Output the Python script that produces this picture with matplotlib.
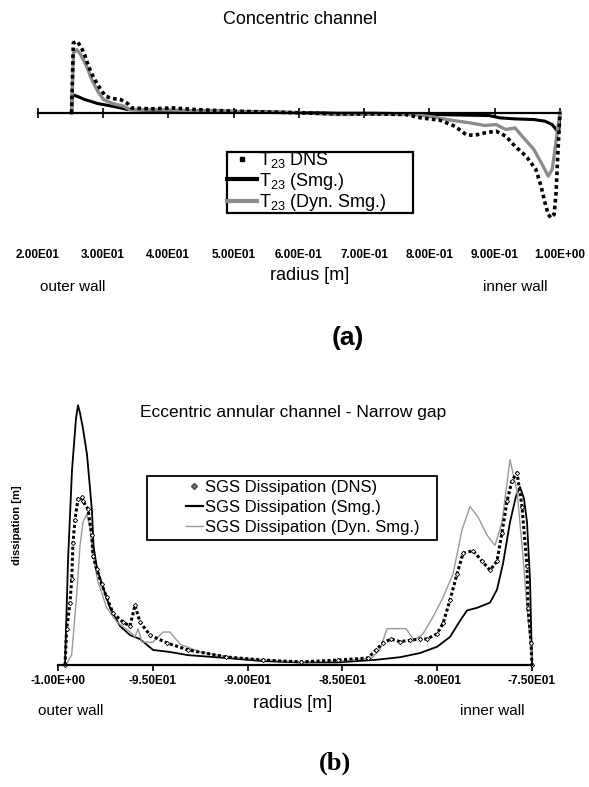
import numpy as np
import matplotlib
matplotlib.use("Agg")
import matplotlib.pyplot as plt
from matplotlib.lines import Line2D
from matplotlib.patches import Rectangle

plt.rcParams["font.family"] = ["Liberation Sans", "DejaVu Sans"]
plt.rcParams["mathtext.default"] = "regular"

# ---- (a) concentric channel, T23 vs radius ----
a_ticks = [0.2, 0.3, 0.4, 0.5, 0.6, 0.7, 0.8, 0.9, 1.0]
a_ticklabels = ["2.00E01", "3.00E01", "4.00E01", "5.00E01", "6.00E-01",
                "7.00E-01", "8.00E-01", "9.00E-01", "1.00E+00"]

a_dns_r = [0.252, 0.2547, 0.2604, 0.266, 0.272, 0.278, 0.286, 0.295, 0.304, 0.315,
           0.327, 0.338, 0.344, 0.373, 0.407, 0.442, 0.488, 0.545, 0.603, 0.66,
           0.718, 0.764, 0.787, 0.816, 0.839, 0.856, 0.868, 0.885, 0.902, 0.917,
           0.931, 0.948, 0.963, 0.971, 0.977, 0.982, 0.986, 0.991, 0.994, 0.997, 1.0]
a_dns_t = [0.0, 2.1, 2.15, 2.0, 1.75, 1.4, 1.05, 0.75, 0.5, 0.43,
           0.4, 0.28, 0.15, 0.12, 0.15, 0.1, 0.06, 0.03, 0.0, -0.03,
           -0.03, -0.05, -0.15, -0.22, -0.4, -0.65, -0.68, -0.6, -0.55, -0.7,
           -1.0, -1.3, -1.7, -2.2, -2.7, -3.05, -3.15, -3.05, -2.4, -1.1, 0.0]

a_smg_r = [0.252, 0.253, 0.263, 0.272, 0.281, 0.292, 0.309, 0.327, 0.338, 0.373,
           0.43, 0.488, 0.545, 0.603, 0.66, 0.718, 0.776, 0.833, 0.891, 0.908,
           0.931, 0.96, 0.977, 0.988, 0.994, 0.998, 1.0]
a_smg_t = [0.0, 0.55, 0.48, 0.4, 0.35, 0.28, 0.22, 0.15, 0.1, 0.08,
           0.07, 0.05, 0.03, 0.01, -0.01, -0.01, -0.03, -0.06, -0.08, -0.15,
           -0.18, -0.2, -0.25, -0.35, -0.5, -0.6, 0.0]

a_dyn_r = [0.252, 0.255, 0.26, 0.266, 0.275, 0.283, 0.292, 0.301, 0.315, 0.332,
           0.341, 0.373, 0.43, 0.488, 0.545, 0.603, 0.66, 0.718, 0.776, 0.805,
           0.833, 0.862, 0.885, 0.902, 0.917, 0.931, 0.942, 0.96, 0.974, 0.982,
           0.988, 0.993, 0.997, 1.0]
a_dyn_t = [0.0, 1.8, 1.9, 1.75, 1.4, 1.0, 0.65, 0.4, 0.28, 0.2,
           0.1, 0.1, 0.07, 0.04, 0.02, 0.0, -0.05, -0.04, -0.05, -0.12,
           -0.22, -0.3, -0.38, -0.35, -0.5, -0.45, -0.7, -1.1, -1.6, -1.9,
           -1.7, -1.0, -0.4, 0.0]

# ---- (b) eccentric annular channel, SGS dissipation vs radius ----
b_ticks = [-1.0, -0.95, -0.9, -0.85, -0.8, -0.75]
b_ticklabels = ["-1.00E+00", "-9.50E01", "-9.00E01", "-8.50E01", "-8.00E01", "-7.50E01"]

# radii were read as picture columns (58 px -> -1.0, 532 px -> -0.75)
b_smg_x = [65, 68, 72, 76, 78, 80, 83, 87, 90, 92, 93.5, 97, 103, 110, 120, 130, 140,
           153, 170, 188, 226, 263, 301, 338, 376, 400, 420, 437, 450, 460, 467, 477,
           490, 497, 503, 510, 516, 520, 524, 527, 530, 532]
b_smg_d = [0.0, 0.4, 0.75, 0.95, 1.0, 0.97, 0.91, 0.81, 0.68, 0.59, 0.46, 0.37, 0.3,
           0.22, 0.15, 0.115, 0.1, 0.058, 0.05, 0.038, 0.027, 0.015, 0.01, 0.01, 0.02,
           0.03, 0.046, 0.07, 0.108, 0.17, 0.21, 0.22, 0.24, 0.29, 0.39, 0.55, 0.65,
           0.685, 0.64, 0.55, 0.33, 0.0]

b_dns_x = [65, 66.7, 70, 71.7, 73, 75, 78, 81.7, 83, 88, 91.7, 93, 96.7, 101.7, 106.7,
           113, 123, 130, 135, 140, 150, 167, 188, 226, 263, 301, 338, 368, 376, 383,
           391, 400, 410, 420, 427, 437, 443, 450, 457, 463, 473, 482, 490, 497, 502,
           507, 512, 517, 522, 527, 528, 531, 532]
b_dns_d = [0.0, 0.14, 0.24, 0.33, 0.47, 0.56, 0.64, 0.645, 0.63, 0.6, 0.5, 0.42, 0.37,
           0.31, 0.26, 0.2, 0.165, 0.15, 0.23, 0.165, 0.115, 0.085, 0.058, 0.031, 0.019,
           0.012, 0.019, 0.027, 0.058, 0.085, 0.1, 0.09, 0.095, 0.1, 0.1, 0.12, 0.16,
           0.25, 0.35, 0.43, 0.44, 0.4, 0.365, 0.4, 0.51, 0.63, 0.71, 0.74, 0.61, 0.38,
           0.22, 0.085, 0.0]

b_dyn_x = [66, 71.7, 76.7, 80, 83, 86.7, 90, 93, 98, 106.7, 117, 130, 135, 138, 142,
           153, 163, 170, 180, 200, 230, 263, 300, 340, 372, 380, 387, 400, 406, 414,
           423, 433, 443, 453, 462, 470, 478, 487, 495, 502, 507, 510, 514, 517, 523,
           527, 532]
b_dyn_d = [0.0, 0.04, 0.27, 0.46, 0.55, 0.58, 0.53, 0.42, 0.32, 0.22, 0.165, 0.127,
           0.108, 0.14, 0.088, 0.088, 0.127, 0.127, 0.08, 0.05, 0.03, 0.02, 0.012, 0.015,
           0.027, 0.06, 0.14, 0.14, 0.14, 0.096, 0.12, 0.185, 0.26, 0.35, 0.52, 0.61,
           0.57, 0.5, 0.46, 0.55, 0.7, 0.79, 0.72, 0.67, 0.42, 0.22, 0.02]


def col_to_r(cols):
    return [-1.0 + (x - 58) / 474 * 0.25 for x in cols]


b_smg_r = col_to_r(b_smg_x)
b_dns_r = col_to_r(b_dns_x)
b_dyn_r = col_to_r(b_dyn_x)

W, H = 589, 787
fig = plt.figure(figsize=(W / 100, H / 100), dpi=100)


def fx(px):
    return px / W


def fy(py):
    return 1 - py / H


# ---------------- panel (a) ----------------
ax1 = fig.add_axes([fx(37.6), fy(246), fx(560) - fx(37.6), fy(35) - fy(246)])
ax1.plot(a_smg_r, a_smg_t, color="black", lw=2.2, clip_on=False)
ax1.plot(a_dyn_r, a_dyn_t, color="#8c8c8c", lw=2.4, clip_on=False)
ax1.plot(a_dns_r, a_dns_t, color="black", lw=2.6, ls=(0, (1, 0.9)), clip_on=False)
ax1.set_xlim(0.2, 1.0)
ax1.set_ylim(-4.0, 2.34)
for s in ["top", "right", "left"]:
    ax1.spines[s].set_visible(False)
ax1.spines["bottom"].set_position(("data", 0))
ax1.spines["bottom"].set_linewidth(1.6)
ax1.set_yticks([])
ax1.set_xticks(a_ticks)
ax1.tick_params(axis="x", direction="inout", length=7, width=1.2, labelbottom=False)
sec1 = ax1.secondary_xaxis("bottom")
sec1.set_xticks(a_ticks, a_ticklabels)
sec1.spines["bottom"].set_visible(False)
sec1.tick_params(length=0, pad=2, labelsize=8.5)
for t in sec1.get_xticklabels():
    t.set_fontweight("bold")

fig.text(fx(300), fy(19), "Concentric channel", ha="center", va="center", fontsize=13)
fig.text(fx(310), fy(276), "radius [m]", ha="center", va="center", fontsize=13)
fig.text(fx(73), fy(287), "outer wall", ha="center", va="center", fontsize=11)
fig.text(fx(515), fy(287), "inner wall", ha="center", va="center", fontsize=11)
fig.text(fx(348), fy(338), "(a)", ha="center", va="center", fontsize=19,
         fontweight="bold")

fig.add_artist(Rectangle((fx(227), fy(213)), fx(413) - fx(227), fy(152) - fy(213),
                         transform=fig.transFigure, fill=False, lw=1.6, ec="black"))
h_a = [Line2D([], [], ls="none", marker="s", ms=3, color="black"),
       Line2D([], [], color="black", lw=3),
       Line2D([], [], color="#8c8c8c", lw=3)]
fig.legend(h_a, ["T$_{23}$ DNS", "T$_{23}$ (Smg.)", "T$_{23}$ (Dyn. Smg.)"],
           loc="upper left", bbox_to_anchor=(fx(227), fy(150)), frameon=False,
           fontsize=13, handlelength=1.65, handletextpad=0.12, borderpad=0,
           borderaxespad=0, labelspacing=0.04)

# ---------------- panel (b) ----------------
ax2 = fig.add_axes([fx(58), fy(665), fx(532) - fx(58), fy(400) - fy(665)])
ax2.plot(b_smg_r, b_smg_d, color="black", lw=1.3, clip_on=False)
ax2.plot(b_dyn_r, b_dyn_d, color="#9a9a9a", lw=1.0, clip_on=False)
ax2.plot(b_dns_r, b_dns_d, color="black", lw=2.2, ls=(0, (1, 0.8)), clip_on=False)
ax2.plot(b_dns_r, b_dns_d, ls="none", marker="D", ms=2.2, mfc="white", mec="black",
         mew=0.6, clip_on=False)
ax2.set_xlim(-1.0, -0.75)
ax2.set_ylim(0, 1.02)
for s in ["top", "right", "left"]:
    ax2.spines[s].set_visible(False)
ax2.spines["bottom"].set_linewidth(1.6)
ax2.set_yticks([])
ax2.set_xticks(b_ticks, b_ticklabels)
ax2.tick_params(axis="x", direction="out", length=4, width=1.2, pad=3, labelsize=8.5)
for t in ax2.get_xticklabels():
    t.set_fontweight("bold")

fig.text(fx(293), fy(413), "Eccentric annular channel - Narrow gap", ha="center",
         va="center", fontsize=12.5)
fig.text(fx(17), fy(525), "dissipation [m]", ha="center", va="center", rotation=90,
         fontsize=8, fontweight="bold")
fig.text(fx(293), fy(704), "radius [m]", ha="center", va="center", fontsize=13)
fig.text(fx(71), fy(711), "outer wall", ha="center", va="center", fontsize=11)
fig.text(fx(492), fy(711), "inner wall", ha="center", va="center", fontsize=11)
fig.text(fx(335), fy(763), "(b)", ha="center", va="center", fontsize=19,
         fontweight="bold", family="Liberation Serif")

fig.add_artist(Rectangle((fx(147), fy(540)), fx(437) - fx(147), fy(476) - fy(540),
                         transform=fig.transFigure, fill=False, lw=1.3, ec="black"))
h_b = [Line2D([], [], ls="none", marker="D", ms=3, mfc="#777777", mec="#444444"),
       Line2D([], [], color="black", lw=1.6),
       Line2D([], [], color="#9a9a9a", lw=1.0)]
fig.legend(h_b, ["SGS Dissipation (DNS)", "SGS Dissipation (Smg.)",
                 "SGS Dissipation (Dyn. Smg.)"],
           loc="upper left", bbox_to_anchor=(fx(186), fy(480)), frameon=False,
           fontsize=12, handlelength=1.0, handletextpad=0.12, borderpad=0,
           borderaxespad=0, labelspacing=0.3)

fig.savefig("out.png", dpi=100)
